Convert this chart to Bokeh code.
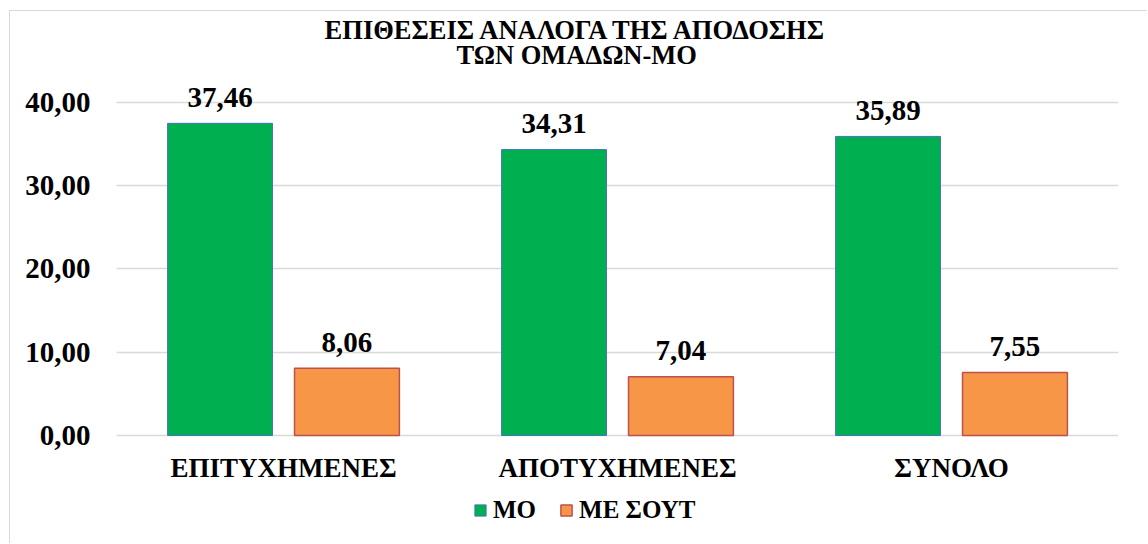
from bokeh.plotting import figure
from bokeh.models import (FactorRange, Range1d, FixedTicker, Legend, LegendItem,
                          Label, ColumnDataSource)
from bokeh.transform import dodge
from bokeh.core.properties import value
from bokeh.embed import file_html
from bokeh.resources import INLINE

# ---------------- data ----------------
title_lines = ["ΕΠΙΘΕΣΕΙΣ ΑΝΑΛΟΓΑ ΤΗΣ ΑΠΟΔΟΣΗΣ", "ΤΩΝ ΟΜΑΔΩΝ-ΜΟ"]
categories = ["ΕΠΙΤΥΧΗΜΕΝΕΣ", "ΑΠΟΤΥΧΗΜΕΝΕΣ", "ΣΥΝΟΛΟ"]
series_names = ["ΜΟ", "ΜΕ ΣΟΥΤ"]
mo_values = [37.46, 34.31, 35.89]
me_sout_values = [8.06, 7.04, 7.55]
y_ticks = [0, 10, 20, 30, 40]
y_tick_labels = ["0,00", "10,00", "20,00", "30,00", "40,00"]

# ---------------- style ----------------
FONT = "Liberation Serif"
GREEN, GREEN_EDGE = "#00B050", "#4472C4"
ORANGE, ORANGE_EDGE = "#F79646", "#C0504D"
GRID = "#D9D9D9"
BAR_W = 0.314
OFFSET = 0.19


def fmt(v):
    return f"{v:.2f}".replace(".", ",")


src = ColumnDataSource(dict(
    cat=categories,
    mo=mo_values,
    me=me_sout_values,
    mo_lbl=[fmt(v) for v in mo_values],
    me_lbl=[fmt(v) for v in me_sout_values],
))
cat_src = ColumnDataSource(dict(cat=categories, y=[0] * len(categories)))

p = figure(width=1138, height=533,
           x_range=FactorRange(*categories, range_padding=0),
           y_range=Range1d(-13.08, 50.52),
           output_backend="svg", toolbar_location=None,
           min_border_left=106, min_border_right=30,
           min_border_top=3, min_border_bottom=0)
p.outline_line_color = None
p.background_fill_color = "white"
p.border_fill_color = "white"
p.styles = {"margin-left": "9px", "margin-top": "10px",
            "border-top": "1px solid #D9D9D9", "border-left": "1px solid #D9D9D9"}

r1 = p.vbar(x=dodge("cat", -OFFSET, range=p.x_range), top="mo", width=BAR_W,
            source=src, fill_color=GREEN, line_color=GREEN_EDGE, line_width=1)
r2 = p.vbar(x=dodge("cat", OFFSET, range=p.x_range), top="me", width=BAR_W,
            source=src, fill_color=ORANGE, line_color=ORANGE_EDGE, line_width=1.5)

lbl_kw = dict(text_align="center", text_baseline="alphabetic", y_offset=-26,
              text_font=value(FONT), text_font_style="bold",
              text_font_size="29px", text_color="black", source=src)
p.text(x=dodge("cat", -OFFSET, range=p.x_range), y="mo", text="mo_lbl", **lbl_kw)
p.text(x=dodge("cat", OFFSET, range=p.x_range), y="me", text="me_lbl", **lbl_kw)

# category labels (x axis labels)
p.text(x="cat", y="y", text="cat", source=cat_src, text_align="center",
       text_baseline="alphabetic", y_offset=32, text_font=value(FONT),
       text_font_style="bold", text_font_size="27px", text_color="black")
p.xaxis.visible = False

# y axis
p.yaxis.ticker = FixedTicker(ticks=y_ticks)
p.yaxis.major_label_overrides = {t: l for t, l in zip(y_ticks, y_tick_labels)}
p.yaxis.axis_line_color = None
p.yaxis.major_tick_line_color = None
p.yaxis.minor_tick_line_color = None
p.yaxis.major_tick_out = 0
p.yaxis.major_label_standoff = 26
p.yaxis.major_label_text_font = FONT
p.yaxis.major_label_text_font_style = "bold"
p.yaxis.major_label_text_font_size = "29px"
p.yaxis.major_label_text_color = "black"

p.xgrid.grid_line_color = None
p.ygrid.grid_line_color = GRID
p.ygrid.grid_line_width = 1.5
p.ygrid.ticker = FixedTicker(ticks=y_ticks)

# title
TITLE_X = 1.378
for txt, ty in zip(title_lines, [48.72, 45.66]):
    p.add_layout(Label(x=TITLE_X, y=ty, text=txt, text_align="center",
                       text_baseline="alphabetic", text_font=FONT,
                       text_font_style="bold", text_font_size="26.5px",
                       text_color="black"))

legend = Legend(items=[LegendItem(label=series_names[0], renderers=[r1]),
                       LegendItem(label=series_names[1], renderers=[r2])],
                orientation="horizontal", location=(357, 20),
                glyph_width=14, glyph_height=14, label_standoff=6, spacing=23,
                padding=0, margin=0, border_line_color=None,
                background_fill_alpha=0,
                label_text_font=FONT, label_text_font_style="bold",
                label_text_font_size="25px", label_text_color="black")
p.add_layout(legend)

open("out.html", "w").write(file_html(p, INLINE))
